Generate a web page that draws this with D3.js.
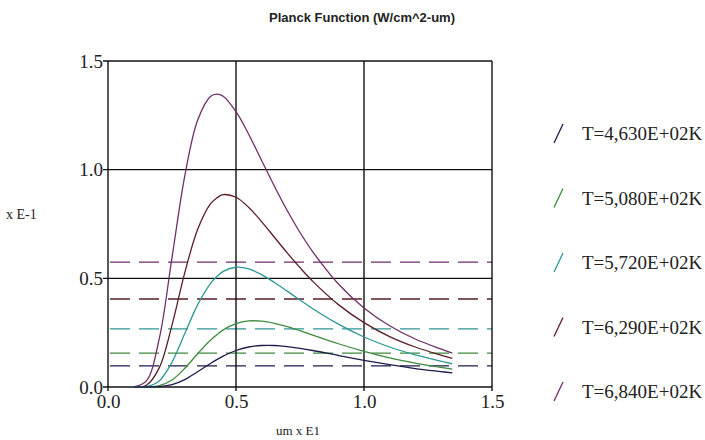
<!DOCTYPE html>
<html><head><meta charset="utf-8">
<script src="https://cdn.jsdelivr.net/npm/d3@7"></script>
<style>body{margin:0;background:#fff}svg{display:block}</style>
</head><body><svg id="c" width="705" height="440"></svg>
<script>
const wavelengths = [0.10,0.15,0.20,0.25,0.30,0.35,0.40,0.425,0.45,0.50,0.55,0.60,0.65,0.70,0.75,0.80,0.90,1.00,1.10,1.20,1.30,1.345];
const s684 = [0.000,0.028,0.221,0.595,0.972,1.227,1.337,1.348,1.338,1.267,1.162,1.042,0.924,0.812,0.711,0.622,0.474,0.364,0.282,0.221,0.175,0.156];
const s629 = [0.000,0.008,0.088,0.285,0.526,0.725,0.843,0.870,0.885,0.873,0.826,0.761,0.689,0.617,0.549,0.486,0.379,0.296,0.232,0.184,0.147,0.132];
const s572 = [0.000,0.002,0.028,0.114,0.246,0.378,0.476,0.508,0.532,0.551,0.543,0.517,0.481,0.441,0.400,0.360,0.289,0.230,0.184,0.148,0.119,0.107];
const s508 = [0.000,0.000,0.006,0.032,0.086,0.153,0.215,0.240,0.263,0.292,0.304,0.303,0.293,0.278,0.259,0.239,0.199,0.164,0.134,0.110,0.090,0.082];
const s463 = [0.000,0.000,0.002,0.011,0.034,0.070,0.108,0.126,0.142,0.168,0.184,0.191,0.191,0.186,0.178,0.168,0.145,0.123,0.103,0.085,0.071,0.065];
const dashLevels = [0.575, 0.405, 0.267, 0.156, 0.097];
const legendLabels = ["T=4,630E+02K","T=5,080E+02K","T=5,720E+02K","T=6,290E+02K","T=6,840E+02K"];
const xTicks = [0.0, 0.5, 1.0, 1.5];
const yTicks = [0.0, 0.5, 1.0, 1.5];

const colors = {c684:"#6e2f68", c629:"#5a1e28", c572:"#2f9696", c508:"#3f8a3f", c463:"#1c1c4c"};
const series = [
  {v:s684, c:colors.c684},
  {v:s629, c:colors.c629},
  {v:s572, c:colors.c572},
  {v:s508, c:colors.c508},
  {v:s463, c:colors.c463}
];
const dashColors = [colors.c684, colors.c629, colors.c572, colors.c508, colors.c463];
const legendColors = [colors.c463, colors.c508, colors.c572, colors.c629, colors.c684];

const svg = d3.select("#c");
svg.append("rect").attr("width",705).attr("height",440).attr("fill","#fff");
const L=108, R=492, T=61, B=387;
const x = d3.scaleLinear().domain([0,1.5]).range([L,R]);
const y = d3.scaleLinear().domain([0,1.5]).range([B,T]);

svg.append("text").attr("x",362).attr("y",22).attr("text-anchor","middle")
  .attr("font-family","Liberation Sans, Arial, sans-serif").attr("font-weight","bold")
  .attr("font-size",13).attr("fill","#222").text("Planck Function (W/cm^2-um)");

svg.append("g").selectAll("line").data(dashLevels).join("line")
  .attr("x1",x(0)+2).attr("x2",x(1.5)).attr("y1",d=>y(d)).attr("y2",d=>y(d))
  .attr("stroke",(d,i)=>dashColors[i]).attr("stroke-width",1.3).attr("stroke-dasharray","20,9");

const g = svg.append("g").attr("stroke","#111").attr("stroke-width",1.4);
yTicks.forEach(t=>{ g.append("line").attr("x1",x(0)-5).attr("x2",x(1.5)).attr("y1",y(t)).attr("y2",y(t)); });
xTicks.forEach(t=>{ g.append("line").attr("x1",x(t)).attr("x2",x(t)).attr("y1",y(1.5)).attr("y2",y(0)+4); });

const line = d3.line().x((d,i)=>x(wavelengths[i])).y(d=>y(Math.max(0,d))).curve(d3.curveCatmullRom.alpha(0.5));
svg.append("g").selectAll("path").data(series).join("path")
  .attr("d",d=>line(d.v)).attr("fill","none").attr("stroke",d=>d.c).attr("stroke-width",1.3);

const fmt = d3.format(".1f");
const ya = svg.append("g").attr("transform",`translate(${L-4},0)`)
  .call(d3.axisLeft(y).tickValues(yTicks).tickFormat(fmt).tickSize(0).tickPadding(1));
const xa = svg.append("g").attr("transform",`translate(0,${B+4})`)
  .call(d3.axisBottom(x).tickValues(xTicks).tickFormat(fmt).tickSize(0).tickPadding(3));
[ya,xa].forEach(a=>{
  a.select(".domain").remove();
  a.selectAll("text").attr("font-family","Liberation Serif, Times New Roman, serif")
   .attr("font-size",19).attr("fill","#222");
});
ya.selectAll("text").attr("dy","0.32em");

svg.append("text").attr("x",6).attr("y",219).attr("font-family","Liberation Serif, serif")
  .attr("font-size",14).attr("fill","#222").text("x E-1");
svg.append("text").attr("x",298).attr("y",435).attr("text-anchor","middle").attr("font-family","Liberation Serif, serif")
  .attr("font-size",13).attr("fill","#222").text("um x E1");

const lg = svg.append("g").selectAll("g").data(legendLabels).join("g")
  .attr("transform",(d,i)=>`translate(0,${134 + i*64.5})`);
lg.append("line").attr("x1",554).attr("y1",9).attr("x2",563).attr("y2",-10)
  .attr("stroke",(d,i)=>legendColors[i]).attr("stroke-width",1.3);
lg.append("text").attr("x",582).attr("y",6).attr("font-family","Liberation Serif, Times New Roman, serif")
  .attr("font-size",19).attr("fill","#222").text(d=>d);
</script></body></html>
